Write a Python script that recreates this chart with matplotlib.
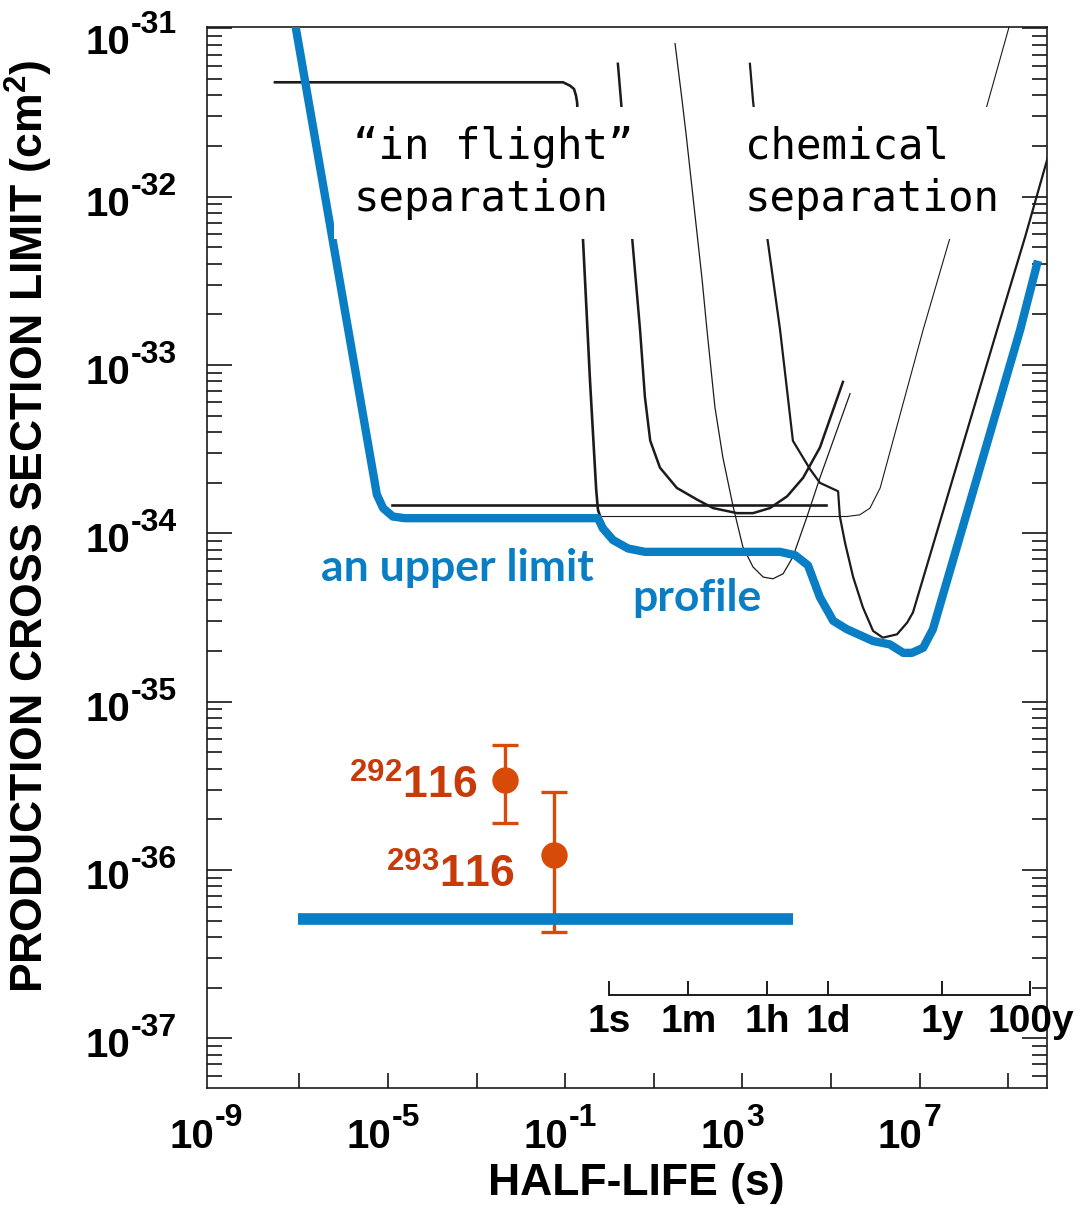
import numpy as np
import matplotlib
matplotlib.use("Agg")
import matplotlib.pyplot as plt
import matplotlib.transforms as mtransforms
from matplotlib.ticker import FixedLocator, LogLocator, NullFormatter

plt.rcParams['font.family'] = ['Liberation Sans', 'DejaVu Sans']
plt.rcParams['mathtext.fontset'] = 'custom'
plt.rcParams['mathtext.rm'] = 'Liberation Sans'
plt.rcParams['mathtext.bf'] = 'Liberation Sans:bold'
plt.rcParams['mathtext.it'] = 'Liberation Sans:italic'

# --- data (log10 of half-life in s, log10 of cross section in cm2) ---
# upper limit profile (thick blue)
profile_logt = [-7.11, -5.25, -5.11, -4.89, -4.62, -0.26, -0.15, 0.08, 0.42, 0.80,
                3.85, 4.19, 4.48, 4.75, 5.05, 5.36, 5.95, 6.33, 6.63, 6.83,
                7.08, 7.30, 9.27, 9.67]
profile_logs = [-30.95, -33.77, -33.85, -33.90, -33.91, -33.91, -33.97, -34.04, -34.09, -34.11,
                -34.11, -34.13, -34.19, -34.38, -34.52, -34.57, -34.64, -34.66, -34.71, -34.71,
                -34.68, -34.57, -32.79, -32.38]

# lower blue bar
bar_logt = [-7.03, 4.14]
bar_logs = [-36.29, -36.29]

# "in flight" bracket curve
a_logt = [-7.55, -1.05, -0.89, -0.80, -0.755, -0.73, -0.60, -0.44, -0.30, -0.26, -0.21]
a_logs = [-31.32, -31.32, -31.34, -31.36, -31.40, -31.44, -32.24, -33.09, -33.74, -33.86, -33.90]

# flat line
b_logt = [-4.91, 4.89]
b_logs = [-33.83, -33.83]

# thin curve rising to the right
c_logt = [-0.21, 5.36, 5.65, 5.88, 6.11, 7.08, 7.69, 8.54, 9.02, 9.08]
c_logs = [-33.90, -33.90, -33.89, -33.85, -33.73, -32.79, -32.24, -31.44, -30.99, -30.93]

# U-shaped curve
d_logt = [0.19, 0.26, 0.51, 0.69, 0.80, 0.92, 1.14, 1.52, 1.98, 2.34, 2.88, 3.24,
          3.62, 4.01, 4.37, 4.75, 5.27]
d_logs = [-31.21, -31.43, -32.24, -32.79, -33.19, -33.45, -33.61, -33.73, -33.80, -33.85,
          -33.88, -33.88, -33.85, -33.78, -33.67, -33.49, -33.10]

# thin V-shaped curve
e_logt = [1.48, 1.64, 1.73, 2.09, 2.20, 2.38, 2.56, 2.79, 3.01, 3.24, 3.47, 3.69,
          3.92, 4.14, 4.46, 4.75, 5.43]
e_logs = [-31.09, -31.43, -31.63, -32.49, -32.79, -33.25, -33.55, -33.84, -34.08, -34.20,
          -34.26, -34.27, -34.24, -34.14, -33.90, -33.67, -33.17]

# chemical separation curve
f_logt = [3.17, 3.24, 3.56, 3.85, 4.14, 4.30, 4.53, 4.75, 5.16, 5.20, 5.32, 5.50,
          5.72, 5.95, 6.17, 6.49, 6.72, 6.85, 8.75, 9.38, 9.90, 10.17]
f_logs = [-31.21, -31.43, -32.24, -32.79, -33.45, -33.52, -33.62, -33.70, -33.75, -33.90,
          -34.06, -34.26, -34.44, -34.58, -34.62, -34.60, -34.53, -34.47, -32.79, -32.24,
          -31.76, -31.53]

# measured isotopes of element 116
iso_names = ['292', '293']
iso_t = [4.4e-3, 5.7e-2]
iso_s = [3.4e-36, 1.23e-36]
iso_hi = [5.5e-36, 2.9e-36]
iso_lo = [1.9e-36, 4.3e-37]

# time scale
time_ticks = [1, 60, 3600, 86400, 3.156e7, 3.156e9]
time_labels = ['1s', '1m', '1h', '1d', '1y', '100y']

# axis labels (exponents)
y_exps = [-37, -36, -35, -34, -33, -32, -31]
x_exps = [-9, -5, -1, 3, 7]

blue = '#0A7EC4'
black = '#1E1A1B'
orange = '#D84A08'
red = '#C83A0A'

def lg(v):
    return 10 ** np.array(v)

fig = plt.figure(figsize=(10.8, 12.06), dpi=100)
ax = fig.add_axes([0.1917, 0.0978, 0.7777, 0.8796])
ax.set_xscale('log')
ax.set_yscale('log')
ax.set_xlim(10 ** -9.083, 10 ** 9.874)
ax.set_ylim(10 ** -37.296, 10 ** -30.993)

ax.plot(lg(a_logt), lg(a_logs), color=black, lw=1.9, zorder=2)
ax.plot(lg(b_logt), lg(b_logs), color=black, lw=1.9, zorder=2)
ax.plot(lg(c_logt), lg(c_logs), color=black, lw=0.8, zorder=2)
ax.plot(lg(d_logt), lg(d_logs), color=black, lw=1.8, zorder=2)
ax.plot(lg(e_logt), lg(e_logs), color=black, lw=0.9, zorder=2)
ax.plot(lg(f_logt), lg(f_logs), color=black, lw=1.6, zorder=2)

ax.plot(lg(profile_logt), lg(profile_logs), color=blue, lw=6, solid_joinstyle='round',
        solid_capstyle='butt', zorder=4)

s = np.array(iso_s)
yerr = [s - np.array(iso_lo), np.array(iso_hi) - s]
ax.errorbar(iso_t, iso_s, yerr=yerr, fmt='o', color=orange, ms=18, elinewidth=2.4,
            capsize=9.5, capthick=2.4, zorder=3)
ax.plot(lg(bar_logt), lg(bar_logs), color=blue, lw=8.4, solid_capstyle='butt', zorder=4)

# isotope labels
label_pos = [(0.3214, 0.2847), (0.3655, 0.2008)]
for name, (px, py) in zip(iso_names, label_pos):
    ax.text(px, py, r'$^{\mathbf{%s}}\mathbf{116}$' % name, transform=ax.transAxes,
            ha='right', va='center', fontsize=32, color=red, zorder=6)

# text boxes
box = dict(boxstyle='square,pad=0.45', fc='white', ec='none')
ax.text(0.174, 0.863, '\u201cin flight\u201d\nseparation', transform=ax.transAxes,
        ha='left', va='center', fontsize=30.5, family='DejaVu Sans Mono',
        linespacing=1.3, bbox=box, zorder=5)
ax.text(0.640, 0.863, 'chemical\nseparation', transform=ax.transAxes,
        ha='left', va='center', fontsize=30.5, family='DejaVu Sans Mono',
        linespacing=1.3, bbox=box, zorder=5)

ax.text(0.2976, 0.490, 'an upper limit', transform=ax.transAxes, ha='center', va='center',
        fontsize=32, family='Lato', weight='bold', color=blue, zorder=6)
ax.text(0.583, 0.462, 'profile', transform=ax.transAxes, ha='center', va='center',
        fontsize=32, family='Lato', weight='bold', color=blue, zorder=6)

# inner time scale
y_line = 10 ** -36.742
y_tick = 10 ** -36.659
ax.plot([time_ticks[0], time_ticks[-1]], [y_line, y_line], color=black, lw=1.4, zorder=2)
ax.vlines(time_ticks, y_line, y_tick, color=black, lw=1.4, zorder=2)
xtrans = mtransforms.blended_transform_factory(ax.transData, ax.transAxes)
for t, lab in zip(time_ticks, time_labels):
    ax.text(t, 0.0622, lab, transform=xtrans, ha='center', va='center', fontsize=28,
            weight='bold', clip_on=False)

# axes ticks
ax.xaxis.set_major_locator(FixedLocator([10.0 ** k for k in range(-7, 10, 2)]))
ax.xaxis.set_minor_locator(FixedLocator([]))
ax.xaxis.set_major_formatter(NullFormatter())
ax.yaxis.set_major_locator(FixedLocator([10.0 ** k for k in y_exps]))
ax.yaxis.set_minor_locator(LogLocator(base=10, subs=np.arange(2, 10), numticks=100))
ax.yaxis.set_minor_formatter(NullFormatter())
ax.yaxis.set_major_formatter(NullFormatter())

ax.tick_params(axis='x', which='major', direction='in', length=10.5, width=1.1, top=False)
ax.tick_params(axis='y', which='major', direction='in', length=18, width=1.1, right=True)
ax.tick_params(axis='y', which='minor', direction='in', length=10.5, width=1.1, right=True)
for sp in ax.spines.values():
    sp.set_linewidth(1.2)
    sp.set_color(black)

# power-of-ten labels with large exponents
ytrans = mtransforms.blended_transform_factory(ax.transAxes, ax.transData)
for k in y_exps:
    dy = -5 if k == -31 else 0
    ax.annotate('10', xy=(0, 10.0 ** k), xycoords=ytrans, xytext=(-55.4, -13.7 + dy),
                textcoords='offset points', ha='right', va='baseline', fontsize=29,
                weight='bold', annotation_clip=False)
    ax.annotate('-%d' % -k, xy=(0, 10.0 ** k), xycoords=ytrans, xytext=(-54.8, 1.4 + dy),
                textcoords='offset points', ha='left', va='baseline', fontsize=23,
                weight='bold', annotation_clip=False)
for k in x_exps:
    ax.annotate('10', xy=(10.0 ** k, 0), xycoords=xtrans, xytext=(2.2, -43.2),
                textcoords='offset points', ha='right', va='baseline', fontsize=29,
                weight='bold', annotation_clip=False)
    ax.annotate('%d' % k, xy=(10.0 ** k, 0), xycoords=xtrans, xytext=(2.8, -27.4),
                textcoords='offset points', ha='left', va='baseline', fontsize=23,
                weight='bold', annotation_clip=False)

ax.set_xlabel('HALF-LIFE (s)', fontsize=32, weight='bold')
ax.xaxis.set_label_coords(0.511, -0.0707)
ax.set_ylabel(r'PRODUCTION CROSS SECTION LIMIT (cm$^{\mathbf{2}}$)', fontsize=32, weight='bold')
ax.yaxis.set_label_coords(-0.181, 0.530)

fig.savefig('out.png', dpi=100)
